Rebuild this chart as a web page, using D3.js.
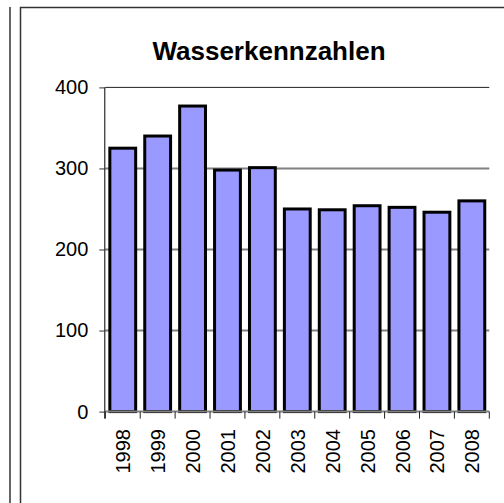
<!DOCTYPE html>
<html>
<head>
<meta charset="utf-8">
<script src="https://cdn.jsdelivr.net/npm/d3@7"></script>
<style>
  body { margin: 0; background: #fff; }
  svg { display: block; font-family: "Liberation Sans", Arial, sans-serif; }
</style>
</head>
<body>
<div id="chart"></div>
<script>
const years = ["1998", "1999", "2000", "2001", "2002", "2003", "2004", "2005", "2006", "2007", "2008"];
const values = [325, 340, 377, 298, 301, 250, 249, 254, 252, 246, 260];
const yTicks = [0, 100, 200, 300, 400];
const title = "Wasserkennzahlen";

const width = 504;
const height = 503;
const margin = {top: 87.4, right: 14.7, bottom: 91.4, left: 105.3};

const svg = d3.select("#chart")
  .append("svg")
  .attr("width", width)
  .attr("height", height);

// outer frames (neighbouring chart edge + this chart's border)
svg.append("line")
  .attr("x1", 10).attr("x2", 10).attr("y1", 7).attr("y2", height)
  .attr("stroke", "#333").attr("stroke-width", 1.5);
svg.append("path")
  .attr("d", `M20.5,${height} V7.5 H${width}`)
  .attr("fill", "none").attr("stroke", "#333").attr("stroke-width", 1.5);

const x = d3.scaleBand()
  .domain(years)
  .range([margin.left, width - margin.right])
  .padding(0);

const y = d3.scaleLinear()
  .domain([0, 400])
  .range([height - margin.bottom, margin.top]);

// gridlines
svg.append("g")
  .selectAll("line")
  .data(yTicks.filter(d => d > 0))
  .join("line")
  .attr("x1", margin.left)
  .attr("x2", width - margin.right)
  .attr("y1", d => y(d))
  .attr("y2", d => y(d))
  .attr("stroke", d => d === 400 ? "#222" : "#808080")
  .attr("stroke-width", d => d === 400 ? 1 : 2);

// bars
svg.append("g")
  .selectAll("rect")
  .data(values)
  .join("rect")
  .attr("x", (d, i) => x(years[i]) + x.bandwidth() * 0.13)
  .attr("width", x.bandwidth() * 0.74)
  .attr("y", d => y(d))
  .attr("height", d => y(0) - y(d))
  .attr("fill", "#9999ff")
  .attr("stroke", "#000")
  .attr("stroke-width", 3);

// x axis line
svg.append("line")
  .attr("x1", margin.left).attr("x2", width - margin.right)
  .attr("y1", y(0)).attr("y2", y(0))
  .attr("stroke", "#808080").attr("stroke-width", 2);

// x ticks at category boundaries
svg.append("g")
  .selectAll("line")
  .data(years.map(d => x(d)).concat([x.range()[1]]))
  .join("line")
  .attr("x1", d => d).attr("x2", d => d)
  .attr("y1", y(0)).attr("y2", y(0) + 7)
  .attr("stroke", "#222").attr("stroke-width", 1);

// x labels
svg.append("g")
  .selectAll("text")
  .data(years)
  .join("text")
  .attr("transform", d => `translate(${x(d) + x.bandwidth() / 2 + 0.5},${y(0) + 17.5}) rotate(-90)`)
  .attr("dy", "0.35em")
  .attr("text-anchor", "end")
  .attr("font-size", "20px")
  .attr("fill", "#000")
  .text(d => d);

// y axis
function yAxis(g) {
  g.attr("transform", `translate(${margin.left},0)`)
    .call(d3.axisLeft(y).tickValues(yTicks).tickSize(6).tickPadding(11))
    .attr("font-size", "20px")
    .attr("font-family", "'Liberation Sans', Arial, sans-serif");
  g.select(".domain").attr("stroke", "#000").attr("d", `M-0.5,${y(0) + 7}V${y(400)}`);
  g.selectAll(".tick line").attr("stroke", "#333");
  g.selectAll(".tick text").attr("fill", "#000");
}
svg.append("g").call(yAxis);

// title
svg.append("text")
  .attr("x", 269)
  .attr("y", 59.5)
  .attr("text-anchor", "middle")
  .attr("font-size", "26px")
  .attr("font-weight", "bold")
  .attr("fill", "#000")
  .text(title);
</script>
</body>
</html>
